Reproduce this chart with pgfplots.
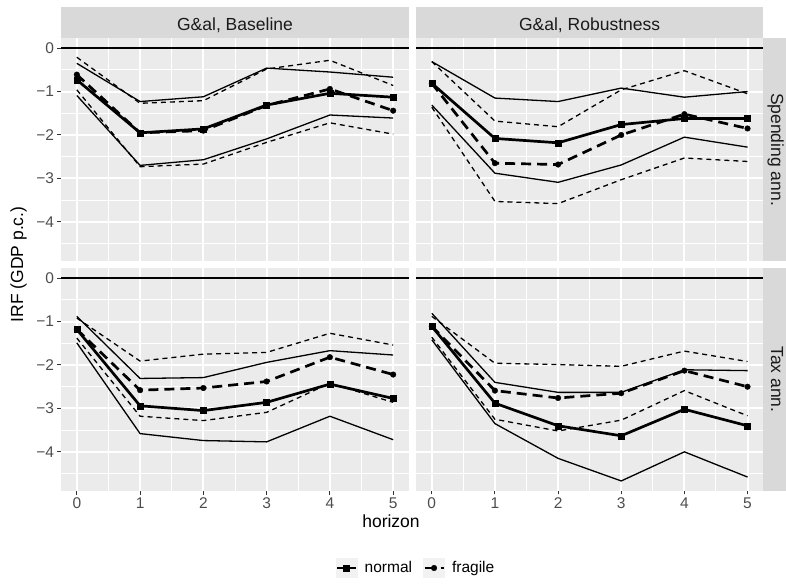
\documentclass[border=0pt]{standalone}
\usepackage{pgfplots}
\pgfplotsset{compat=1.18}
\usepackage{pgfplotstable}
\usepackage{fontspec}
\setmainfont{Liberation Sans}
\definecolor{panelbg}{HTML}{EBEBEB}
\definecolor{stripbg}{HTML}{D9D9D9}
\definecolor{striptxt}{HTML}{1A1A1A}
\definecolor{labc}{HTML}{4D4D4D}
\definecolor{tickc}{HTML}{333333}
\definecolor{keybg}{HTML}{F2F2F2}
\newcommand{\ticfont}{\fontsize{15.5}{18}\selectfont}
\newcommand{\stripfont}{\fontsize{17.5}{20}\selectfont}
\newcommand{\titfont}{\fontsize{17.5}{20}\selectfont}

\pgfplotstableread{
h n nlo nhi f flo fhi
0 -0.73 -1.09 -0.35 -0.61 -0.96 -0.21
1 -1.95 -2.70 -1.23 -1.95 -2.73 -1.27
2 -1.86 -2.57 -1.12 -1.90 -2.67 -1.21
3 -1.31 -2.09 -0.46 -1.32 -2.17 -0.48
4 -1.04 -1.54 -0.55 -0.94 -1.72 -0.28
5 -1.13 -1.61 -0.67 -1.44 -1.98 -0.86
}\TL
\pgfplotstableread{
h n nlo nhi f flo fhi
0 -0.81 -1.31 -0.31 -0.81 -1.36 -0.31
1 -2.08 -2.88 -1.15 -2.65 -3.53 -1.68
2 -2.18 -3.09 -1.23 -2.68 -3.58 -1.81
3 -1.76 -2.69 -0.92 -2.00 -3.03 -0.96
4 -1.62 -2.05 -1.13 -1.52 -2.53 -0.52
5 -1.62 -2.28 -1.00 -1.85 -2.61 -1.05
}\TR
\pgfplotstableread{
h n nlo nhi f flo fhi
0 -1.18 -1.49 -0.88 -1.18 -1.38 -0.92
1 -2.94 -3.58 -2.31 -2.58 -3.18 -1.91
2 -3.05 -3.74 -2.29 -2.53 -3.28 -1.75
3 -2.86 -3.77 -1.94 -2.38 -3.09 -1.71
4 -2.44 -3.18 -1.67 -1.82 -2.42 -1.27
5 -2.77 -3.72 -1.77 -2.22 -2.86 -1.54
}\BL
\pgfplotstableread{
h n nlo nhi f flo fhi
0 -1.11 -1.42 -0.81 -1.11 -1.36 -0.88
1 -2.88 -3.35 -2.40 -2.59 -3.25 -1.96
2 -3.40 -4.15 -2.63 -2.76 -3.52 -1.99
3 -3.63 -4.67 -2.63 -2.65 -3.27 -2.03
4 -3.02 -4.00 -2.11 -2.13 -2.59 -1.68
5 -3.40 -4.58 -2.13 -2.50 -3.17 -1.92
}\BR

\pgfplotsset{
  panel/.style={
    scale only axis, width=348pt, height=223pt,
    xmin=-0.25, xmax=5.25, ymin=-4.9015, ymax=0.2335,
    axis background/.style={fill=panelbg},
    axis line style={draw=none},
    xtick={0,1,2,3,4,5}, ytick={-4,-3,-2,-1,0},
    minor xtick={0.5,1.5,2.5,3.5,4.5},
    minor ytick={-4.5,-3.5,-2.5,-1.5,-0.5},
    grid=both,
    major grid style={white, line width=2pt},
    minor grid style={white, line width=1pt},
    tick align=outside, major tick length=3.5pt, minor tick length=0pt,
    tick style={color=tickc, line width=1pt},
    xtick pos=left, ytick pos=left,
    ticklabel style={font=\ticfont, text=labc},
    xticklabels={0,1,2,3,4,5},
    yticklabels={−4,−3,−2,−1,0},
  },
  hl/.style={black, line width=1.8pt, no marks},
  cin/.style={black, solid, line width=1.3pt, no marks},
  cif/.style={black, dash pattern=on 5pt off 4pt, line width=1.3pt, no marks},
  mn/.style={black, solid, line width=2.7pt, mark=square*, mark size=3pt, mark options={solid, line width=0.4pt}},
  mf/.style={black, dash pattern=on 10pt off 6pt, line width=2.7pt, mark=*, mark size=2.8pt, mark options={solid, line width=0.4pt}},
}

\newcommand{\panelplots}[1]{%
  \addplot[hl, forget plot] coordinates {(-0.25,0) (5.25,0)};
  \addplot[cin, forget plot] table[x=h,y=nlo]{#1};
  \addplot[cin, forget plot] table[x=h,y=nhi]{#1};
  \addplot[cif, forget plot] table[x=h,y=flo]{#1};
  \addplot[cif, forget plot] table[x=h,y=fhi]{#1};
  \addplot[mn] table[x=h,y=n]{#1};
  \addplot[mf] table[x=h,y=f]{#1};
}

\begin{document}
\begin{tikzpicture}[x=1pt,y=1pt]
\path[use as bounding box] (0,0) rectangle (786,583);

\begin{axis}[panel, at={(61pt,322pt)}, anchor=south west,
  xticklabels={}, xtick style={draw=none}]
\panelplots{\TL}
\end{axis}

\begin{axis}[panel, width=347.3pt, at={(416pt,322pt)}, anchor=south west,
  xticklabels={}, yticklabels={}, xtick style={draw=none}, ytick style={draw=none}]
\panelplots{\TR}
\end{axis}

\begin{axis}[panel, at={(61pt,92pt)}, anchor=south west,
  legend image code/.code={%
    \path[fill=keybg, draw=none, solid] (0pt,-10pt) rectangle (22pt,10pt);
    \draw[mark repeat=2, mark phase=2, #1] plot coordinates {(1.5pt,0pt) (11pt,0pt) (20.5pt,0pt)};
  },
  legend style={at={(1.0201,-0.3453)}, anchor=center, draw=none, fill=none,
    legend columns=2, font=\ticfont, inner sep=0pt,
    /tikz/every odd column/.append style={column sep=5pt},
    /tikz/every even column/.append style={column sep=9pt}},
  legend cell align=left]
\panelplots{\BL}
\legend{normal, fragile}
\end{axis}

\begin{axis}[panel, width=347.3pt, at={(416pt,92pt)}, anchor=south west,
  yticklabels={}, ytick style={draw=none}]
\panelplots{\BR}
\end{axis}

% strips
\fill[stripbg] (61,545) rectangle (409,576);
\fill[stripbg] (416,545) rectangle (763.3,576);
\fill[stripbg] (763.3,322) rectangle (800,545);
\fill[stripbg] (763.3,92) rectangle (800,315);
\node[anchor=base, text=striptxt, font=\stripfont, inner sep=0pt] at (235,552.5) {G\&al, Baseline};
\node[anchor=base, text=striptxt, font=\stripfont, inner sep=0pt] at (589.6,552.5) {G\&al, Robustness};
\node[anchor=base, rotate=-90, text=striptxt, font=\stripfont, inner sep=0pt] at (771,433.5) {Spending ann.};
\node[anchor=base, rotate=-90, text=striptxt, font=\stripfont, inner sep=0pt] at (771,203.5) {Tax ann.};

% axis titles
\node[anchor=base, font=\titfont, inner sep=0pt] at (391,56) {horizon};
\node[anchor=base, rotate=90, font=\titfont, inner sep=0pt] at (23,318.5) {IRF (GDP p.c.)};
\end{tikzpicture}
\end{document}
